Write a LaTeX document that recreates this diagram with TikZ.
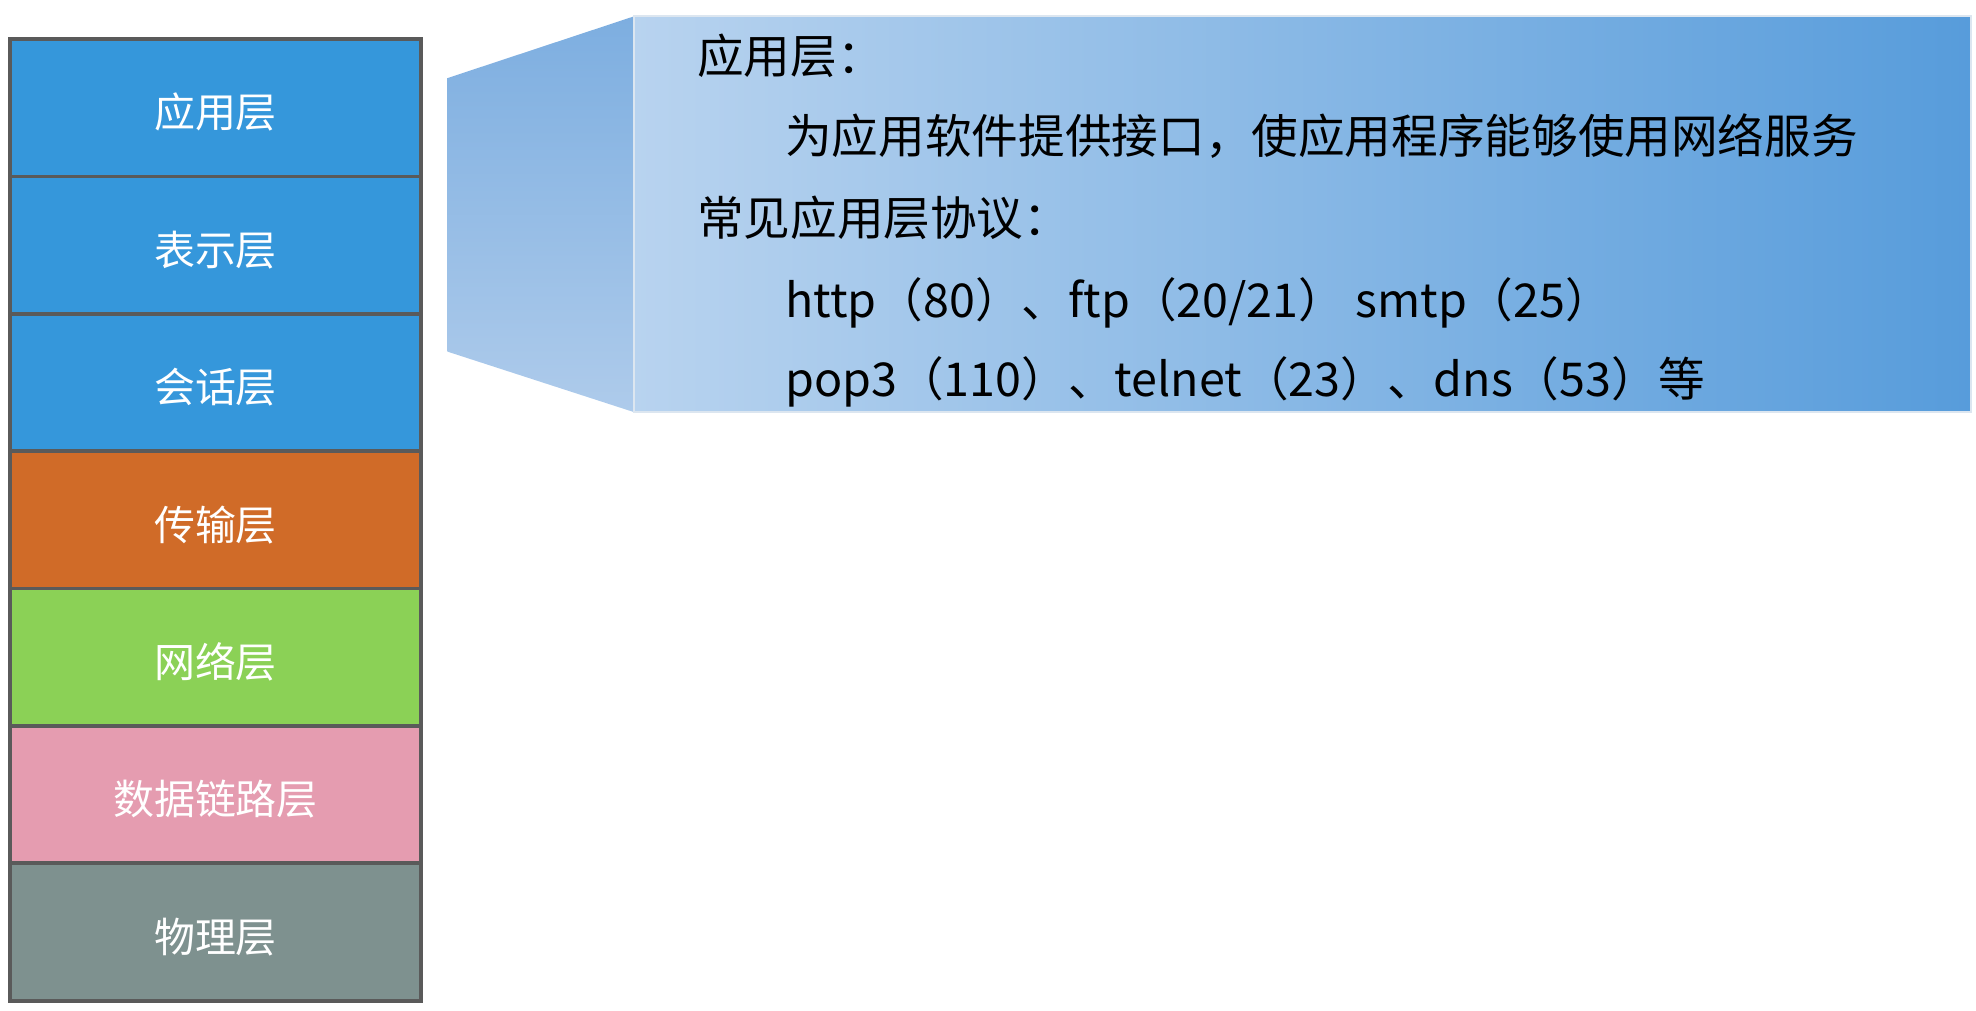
\documentclass[tikz,border=0pt]{standalone}
\usepackage{fontspec}
\newfontfamily\cjk{Noto Sans CJK SC}
\definecolor{appblue}{HTML}{3597DB}
\definecolor{transorange}{HTML}{D06B28}
\definecolor{netgreen}{HTML}{8BD156}
\definecolor{linkpink}{HTML}{E59CB0}
\definecolor{physgray}{HTML}{7E918F}
\definecolor{edgegray}{HTML}{5A5A5A}
\definecolor{boxlight}{HTML}{B8D3EF}
\definecolor{boxdark}{HTML}{579CDB}
\definecolor{boxedge}{HTML}{DCE6F0}
\definecolor{sidetop}{HTML}{7DAEE0}
\definecolor{sidebottom}{HTML}{AECBEB}
\begin{document}
\begin{tikzpicture}[x=1pt,y=-1pt,
    layer/.style={draw=edgegray, line width=3pt, minimum width=326pt, minimum height=109pt,
        inner sep=0pt, text=white, text height=32pt, text depth=0pt,
        font=\cjk\fontsize{32.5}{38}\selectfont},
    note/.style={anchor=base west, inner sep=0pt, font=\cjk\fontsize{37}{44}\selectfont}]
        \useasboundingbox (0,0) rectangle (1568,802);
        % side face and detail box
        \shade [top color=sidetop, bottom color=sidebottom] (355,62) -- (503,13) -- (503,327) -- (355,279) -- cycle;
        \shadedraw [left color=boxlight, right color=boxdark, draw=boxedge, line width=1.5pt] (503,13) rectangle (1564,327);
        % the seven layers
        \foreach[count=\i] \name/\c in {应用层/appblue,表示层/appblue,会话层/appblue,传输层/transorange,
                网络层/netgreen,数据链路层/linkpink,物理层/physgray}{
            \node[layer, fill=\c] (l\i) at (171,109*\i-23.5) {\name};
        }
        % text in the box
        \node[note] (t1) at (553,58) {应用层：};
        \node[note] (t2) at (623,122) {为应用软件提供接口，使应用程序能够使用网络服务};
        \node[note] (t3) at (553,187) {常见应用层协议：};
        \node[note] (t4) at (623,252) {http（80）、ftp（20/21） smtp（25）};
        \node[note] (t5) at (623,315) {pop3（110）、telnet（23）、dns（53）等};

        \end{tikzpicture}
\end{document}
